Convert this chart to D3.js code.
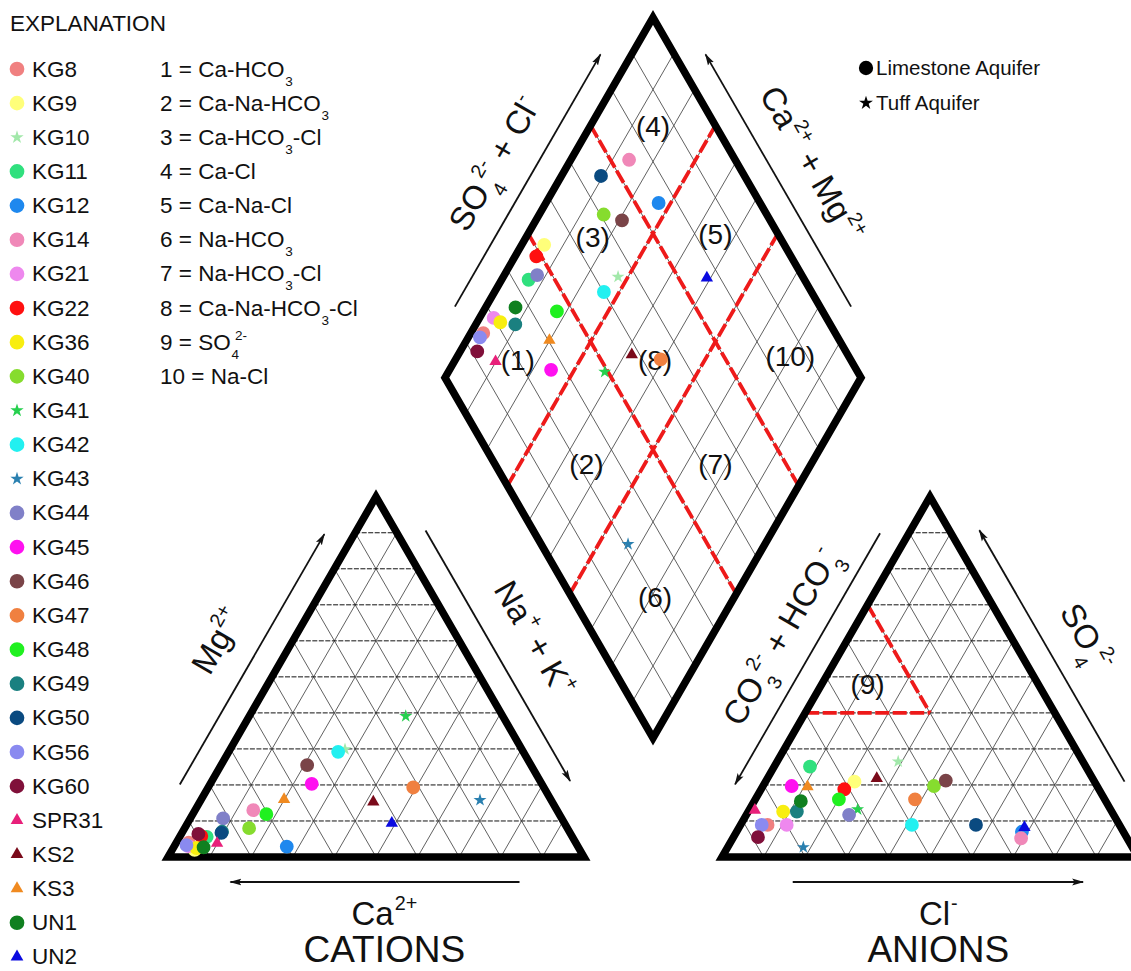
<!DOCTYPE html>
<html>
<head>
<meta charset="utf-8">
<script src="https://cdn.jsdelivr.net/npm/d3@7"></script>
<style>
  body { margin: 0; background: #fff; }
  svg { display: block; }
  text { font-family: "Liberation Sans", Arial, Helvetica, sans-serif; fill: #111; }
</style>
</head>
<body>
<svg id="chart" width="1131" height="971"></svg>
<script>
// ---------------------------------------------------------------
// Sample data (milliequivalent percentages)
// ---------------------------------------------------------------
const sampleNames = ["KG8","KG9","KG10","KG11","KG12","KG14","KG21","KG22","KG36","KG40","KG41","KG42","KG43","KG44","KG45","KG46","KG47","KG48","KG49","KG50","KG56","KG60","SPR31","KS2","KS3","UN1","UN2"];
// cations
const mgPct  = [4.0, 2.0, 29.9, 5.6, 2.9, 13.0, 3.0, 5.8, 2.5, 8.0, 39.1, 29.2, 15.8, 10.7, 20.3, 25.5, 19.3, 11.9, 7.0, 6.7, 3.3, 6.4, 3.8, 15.3, 16.0, 2.7, 9.4];
const naKPct = [3.0, 5.4, 27.6, 6.5, 27.1, 14.0, 3.4, 5.1, 5.6, 15.5, 37.6, 26.3, 67.1, 7.9, 24.4, 20.7, 49.3, 17.7, 9.5, 9.5, 2.8, 4.1, 9.9, 41.7, 19.9, 7.2, 49.1];
// anions
const so4Pct = [8.9, 20.9, 26.5, 25.1, 7.0, 5.2, 8.9, 18.8, 12.6, 19.7, 13.2, 8.9, 2.7, 11.7, 19.7, 21.2, 16.0, 16.0, 12.6, 8.9, 8.9, 5.5, 13.0, 21.8, 19.5, 15.5, 8.2];
const clPct  = [6.5, 21.4, 29.1, 8.6, 68.6, 69.3, 11.1, 20.0, 8.4, 41.1, 26.0, 41.2, 18.2, 24.7, 6.9, 43.2, 38.4, 20.1, 11.7, 56.6, 5.1, 5.9, 1.4, 26.3, 10.8, 11.2, 68.6];
// sample category -> marker symbol
const sampleSymbol = ["circle","circle","star","circle","circle","circle","circle","circle","circle","circle","star","circle","star","circle","circle","circle","circle","circle","circle","circle","circle","circle","triangle","triangle","triangle","circle","triangle"];

// Water-type classification
const classNumbers = [1,2,3,4,5,6,7,8,9,10];
const classNames = ["Ca-HCO_3","Ca-Na-HCO_3","Ca-HCO_3-Cl","Ca-Cl","Ca-Na-Cl","Na-HCO_3","Na-HCO_3-Cl","Ca-Na-HCO_3-Cl","SO_4^{2-}","Na-Cl"];
// Field boundaries in the diamond (percent of SO4+Cl and of Ca+Mg)
const fieldBreaks = [40, 70];
// Field labels in the diamond: [SO4+Cl %, Ca+Mg %]
const fieldLabels = ["(1)","(2)","(3)","(4)","(5)","(6)","(7)","(8)","(10)"];
const fieldAnion  = [20, 22, 55, 85, 85, 20, 53, 53, 86];
const fieldCation = [85, 54, 84, 85, 55, 19, 23, 52, 20];
// Sulfate field in the anion triangle: SO4 >= 40, CO3+HCO3 >= 30
const sulfateMinSO4 = 40, sulfateMinHCO3 = 30;
const sulfateLabel = "(9)", sulfateLabelSO4 = 48, sulfateLabelCl = 11;

const aquiferNames = ["Limestone Aquifer", "Tuff Aquifer"];
const aquiferSymbol = ["circle", "star"];
const gridTicks = [10,20,30,40,50,60,70,80,90];

// ---------------------------------------------------------------
// Styles
// ---------------------------------------------------------------
const sampleColors = ["#f08080","#ffff7a","#a2e8aa","#30e07e","#1e88ee","#f088b8","#ee88ee","#ff1010","#f8ee10","#86dc2e","#26d04e","#22f0f0","#2a80b0","#8080c8","#ff10f0","#7a4448","#f08040","#20f020","#1a8080","#0a4a80","#8a8af0","#80103a","#e8207a","#7a0a1a","#f08a20","#108020","#0a0ae0"];
const RED = "#ee1a1a";

// ---------------------------------------------------------------
// Geometry / scales
// ---------------------------------------------------------------
const SIDE = 416, TH = SIDE * Math.sqrt(3) / 2;
const BASE_Y = 857, CAT_LEFT = 168, AN_LEFT = 722;
const DM_BX = 653, DM_BY = 738;

const catX = d3.scaleLinear().domain([0, 100]).range([CAT_LEFT, CAT_LEFT + SIDE]);
const anX  = d3.scaleLinear().domain([0, 100]).range([AN_LEFT, AN_LEFT + SIDE]);
const triY = d3.scaleLinear().domain([0, 100]).range([BASE_Y, BASE_Y - TH]);
const dmX  = d3.scaleLinear().domain([-100, 100]).range([DM_BX - SIDE / 2, DM_BX + SIDE / 2]);
const dmY  = d3.scaleLinear().domain([0, 200]).range([DM_BY, DM_BY - 2 * TH]);

const catPos = (mg, nak) => [catX(nak + mg / 2), triY(mg)];
const anPos  = (so4, cl) => [anX(cl + so4 / 2), triY(so4)];
const dmPos  = (a, c) => [dmX(a - c), dmY(a + c)];   // a = SO4+Cl, c = Ca+Mg

const svg = d3.select("#chart");
svg.append("rect").attr("width", 1131).attr("height", 971).attr("fill", "#fff");

const defs = svg.append("defs");
defs.append("marker").attr("id", "head")
  .attr("viewBox", "0 0 12 8").attr("refX", 11).attr("refY", 4)
  .attr("markerWidth", 12).attr("markerHeight", 8)
  .attr("markerUnits", "userSpaceOnUse").attr("orient", "auto")
  .append("path").attr("d", "M0,0.6 L12,4 L0,7.4 L2.5,4 Z").attr("fill", "#111");

const line = d3.line();

// chemical formula text: _x subscript, ^{..} superscript, stacked when both
function parseChem(s) {
  const parts = []; let buf = ""; let i = 0;
  while (i < s.length) {
    const ch = s[i];
    if (ch === "_" || ch === "^") {
      if (buf) { parts.push({ t: buf }); buf = ""; }
      let val;
      if (s[i + 1] === "{") { const j = s.indexOf("}", i); val = s.slice(i + 2, j); i = j + 1; }
      else { val = s[i + 1]; i += 2; }
      const last = parts[parts.length - 1];
      if (ch === "^" && last && last.sub !== undefined && last.sup === undefined) last.sup = val;
      else parts.push(ch === "_" ? { sub: val } : { sup: val });
    } else { buf += ch; i++; }
  }
  if (buf) parts.push({ t: buf });
  return parts;
}
function chemText(sel, str, fs) {
  const small = fs * 0.6;
  let cur = 0;
  parseChem(str).forEach(p => {
    if (p.t !== undefined) {
      sel.append("tspan").attr("dy", -cur).text(p.t); cur = 0;
    } else {
      if (p.sub !== undefined) {
        const target = fs * 0.4;
        sel.append("tspan").attr("font-size", small).attr("dx", fs * 0.04).attr("dy", target - cur).text(p.sub);
        cur = target;
      }
      if (p.sup !== undefined) {
        const target = -fs * 0.45;
        const dx = p.sub !== undefined ? -small * 0.3 * p.sub.length : fs * 0.03;
        sel.append("tspan").attr("font-size", small).attr("dx", dx).attr("dy", target - cur).text(p.sup);
        cur = target;
      }
    }
  });
  return sel;
}

function symbolPath(kind, where) {
  const sizes = where === "legend"
    ? { circle: 170, star: 55, triangle: 70 }
    : { circle: 150, star: 52, triangle: 66 };
  const type = kind === "star" ? d3.symbolStar : kind === "triangle" ? d3.symbolTriangle : d3.symbolCircle;
  return d3.symbol().type(type).size(sizes[kind])();
}

// ---------------------------------------------------------------
// Grids
// ---------------------------------------------------------------
const gGrid = svg.append("g");
function seg(g, p0, p1, cls) {
  const p = g.append("path").attr("d", line([p0, p1])).attr("fill", "none");
  if (cls === "diag") p.attr("stroke", "#444").attr("stroke-width", 0.85);
  if (cls === "horiz") p.attr("stroke", "#111").attr("stroke-width", 1).attr("stroke-dasharray", "5,1.5");
  if (cls === "red") p.attr("stroke", RED).attr("stroke-width", 3.8).attr("stroke-dasharray", "14,3.5").attr("stroke-linecap", "butt");
  return p;
}
gridTicks.forEach(k => {
  // cation triangle
  seg(gGrid, catPos(0, k), catPos(100 - k, k), "diag");
  seg(gGrid, catPos(0, 100 - k), catPos(100 - k, 0), "diag");
  seg(gGrid, catPos(k, 0), catPos(k, 100 - k), "horiz");
  // anion triangle
  seg(gGrid, anPos(0, k), anPos(100 - k, k), "diag");
  seg(gGrid, anPos(0, 100 - k), anPos(100 - k, 0), "diag");
  seg(gGrid, anPos(k, 0), anPos(k, 100 - k), "horiz");
  // diamond
  seg(gGrid, dmPos(k, 0), dmPos(k, 100), "diag");
  seg(gGrid, dmPos(0, k), dmPos(100, k), "diag");
});

// field boundaries
const gRed = svg.append("g");
fieldBreaks.forEach(v => {
  seg(gRed, dmPos(v, 0), dmPos(v, 100), "red");
  seg(gRed, dmPos(0, v), dmPos(100, v), "red");
});
seg(gRed, anPos(sulfateMinSO4, 0), anPos(sulfateMinSO4, 100 - sulfateMinSO4 - sulfateMinHCO3), "red");
seg(gRed, anPos(100 - sulfateMinHCO3, 0), anPos(sulfateMinSO4, 100 - sulfateMinSO4 - sulfateMinHCO3), "red");

// outlines
const gFrame = svg.append("g").attr("fill", "none").attr("stroke", "#000")
  .attr("stroke-width", 7.5).attr("stroke-linejoin", "miter").attr("stroke-miterlimit", 6);
gFrame.append("path").attr("d", line([catPos(0, 0), catPos(0, 100), catPos(100, 0)]) + "Z");
gFrame.append("path").attr("d", line([anPos(0, 0), anPos(0, 100), anPos(100, 0)]) + "Z");
gFrame.append("path").attr("d", line([dmPos(0, 0), dmPos(100, 0), dmPos(100, 100), dmPos(0, 100)]) + "Z");

// field labels
const gField = svg.append("g").attr("font-size", 28).attr("text-anchor", "middle");
fieldLabels.forEach((lab, i) => {
  const [x, y] = dmPos(fieldAnion[i], fieldCation[i]);
  gField.append("text").attr("x", x).attr("y", y + 10).text(lab);
});
{
  const [x, y] = anPos(sulfateLabelSO4, sulfateLabelCl);
  gField.append("text").attr("x", x).attr("y", y + 10).text(sulfateLabel);
}

// ---------------------------------------------------------------
// Axis arrows and titles
// ---------------------------------------------------------------
const gAxis = svg.append("g");
function sideGeom(p0, p1, center) {
  const dx = p1[0] - p0[0], dy = p1[1] - p0[1];
  const L = Math.hypot(dx, dy), u = [dx / L, dy / L];
  let n = [-u[1], u[0]];
  const mid = [(p0[0] + p1[0]) / 2, (p0[1] + p1[1]) / 2];
  if ((mid[0] - center[0]) * n[0] + (mid[1] - center[1]) * n[1] < 0) n = [-n[0], -n[1]];
  return { p0, u, n, L, mid };
}
function arrow(p0, p1, center, t0, t1, off) {
  const s = sideGeom(p0, p1, center);
  const a = [p0[0] + s.u[0] * s.L * t0 + s.n[0] * off, p0[1] + s.u[1] * s.L * t0 + s.n[1] * off];
  const b = [p0[0] + s.u[0] * s.L * t1 + s.n[0] * off, p0[1] + s.u[1] * s.L * t1 + s.n[1] * off];
  gAxis.append("path").attr("d", line([a, b])).attr("stroke", "#111")
    .attr("stroke-width", 1.8).attr("fill", "none").attr("marker-end", "url(#head)");
}
function sideTitle(p0, p1, center, off, along, label, fs) {
  const s = sideGeom(p0, p1, center);
  const x = s.mid[0] + s.n[0] * off + s.u[0] * along, y = s.mid[1] + s.n[1] * off + s.u[1] * along;
  let ang = Math.atan2(s.u[1], s.u[0]) * 180 / Math.PI;
  if (ang > 90) ang -= 180;
  if (ang < -90) ang += 180;
  const t = gAxis.append("text").attr("font-size", fs).attr("text-anchor", "middle")
    .attr("transform", `translate(${x},${y}) rotate(${ang})`).attr("y", fs * 0.36);
  chemText(t, label, fs);
}

const cCenter = catPos(33.3, 33.3), aCenter = anPos(33.3, 33.3), dCenter = dmPos(50, 50);
// cation triangle
arrow(catPos(0, 0), catPos(100, 0), cCenter, 0.165, 0.86, 26);
arrow(catPos(100, 0), catPos(0, 100), cCenter, 0.13, 0.825, 26);
arrow(catPos(0, 100), catPos(0, 0), cCenter, 0.155, 0.85, 25);
sideTitle(catPos(0, 0), catPos(100, 0), cCenter, 66, 4, "Mg^{2+}", 33);
sideTitle(catPos(100, 0), catPos(0, 100), cCenter, 67, -6, "Na^+ + K^+", 33);
// anion triangle
arrow(anPos(100, 0), anPos(0, 0), aCenter, 0.136, 0.833, 25);
arrow(anPos(0, 100), anPos(100, 0), aCenter, 0.173, 0.871, 26);
arrow(anPos(0, 0), anPos(0, 100), aCenter, 0.17, 0.868, 25);
sideTitle(anPos(0, 0), anPos(100, 0), aCenter, 60, 12, "CO_3^{2-} + HCO_3^-", 33);
sideTitle(anPos(100, 0), anPos(0, 100), aCenter, 66, -8, "SO_4^{2-}", 33);
// diamond
arrow(dmPos(0, 100), dmPos(100, 100), dCenter, 0.16, 0.86, 27);
arrow(dmPos(100, 0), dmPos(100, 100), dCenter, 0.16, 0.86, 27);
sideTitle(dmPos(0, 100), dmPos(100, 100), dCenter, 65, 2, "SO_4^{2-} + Cl^-", 33);
sideTitle(dmPos(100, 0), dmPos(100, 100), dCenter, 65, 2, "Ca^{2+} + Mg^{2+}", 33);

// bottom titles
function plainTitle(x, y, label, fs) {
  const t = gAxis.append("text").attr("x", x).attr("y", y).attr("font-size", fs).attr("text-anchor", "middle");
  chemText(t, label, fs);
}
plainTitle(catX(52), 925, "Ca^{2+}", 33);
plainTitle(catX(52), 962, "CATIONS", 37);
plainTitle(anX(52), 925, "Cl^-", 33);
plainTitle(anX(52), 962, "ANIONS", 37);

// ---------------------------------------------------------------
// Samples
// ---------------------------------------------------------------
const gPts = svg.append("g");
function plotSamples(posFn) {
  sampleNames.forEach((name, i) => {
    const [x, y] = posFn(i);
    gPts.append("path").attr("d", symbolPath(sampleSymbol[i], "plot"))
      .attr("transform", `translate(${x},${y})`).attr("fill", sampleColors[i]);
  });
}
plotSamples(i => catPos(mgPct[i], naKPct[i]));
plotSamples(i => anPos(so4Pct[i], clPct[i]));
plotSamples(i => dmPos(so4Pct[i] + clPct[i], 100 - naKPct[i]));

// ---------------------------------------------------------------
// Legends
// ---------------------------------------------------------------
const LEG_Y0 = 69, LEG_DY = 34.15, LEG_FS = 22.5;
const gLeg = svg.append("g").attr("font-size", LEG_FS);
gLeg.append("text").attr("x", 10).attr("y", 31).attr("font-size", 22.5).text("EXPLANATION");
sampleNames.forEach((name, i) => {
  const y = LEG_Y0 + i * LEG_DY;
  gLeg.append("path").attr("d", symbolPath(sampleSymbol[i], "legend"))
    .attr("transform", `translate(17,${y})`).attr("fill", sampleColors[i]);
  gLeg.append("text").attr("x", 32).attr("y", y + 7.5).text(name);
});
classNumbers.forEach((num, i) => {
  const y = LEG_Y0 + i * LEG_DY;
  const t = gLeg.append("text").attr("x", 160).attr("y", y + 7.5);
  chemText(t, `${num} = ${classNames[i]}`, LEG_FS);
});
aquiferNames.forEach((name, i) => {
  const y = 68 + i * 35;
  gLeg.append("path").attr("d", d3.symbol().type(aquiferSymbol[i] === "star" ? d3.symbolStar : d3.symbolCircle)
      .size(aquiferSymbol[i] === "star" ? 60 : 160)())
    .attr("transform", `translate(866,${y})`).attr("fill", "#000");
  gLeg.append("text").attr("x", 876).attr("y", y + 7).attr("font-size", 20.5).text(name);
});
</script>
</body>
</html>
